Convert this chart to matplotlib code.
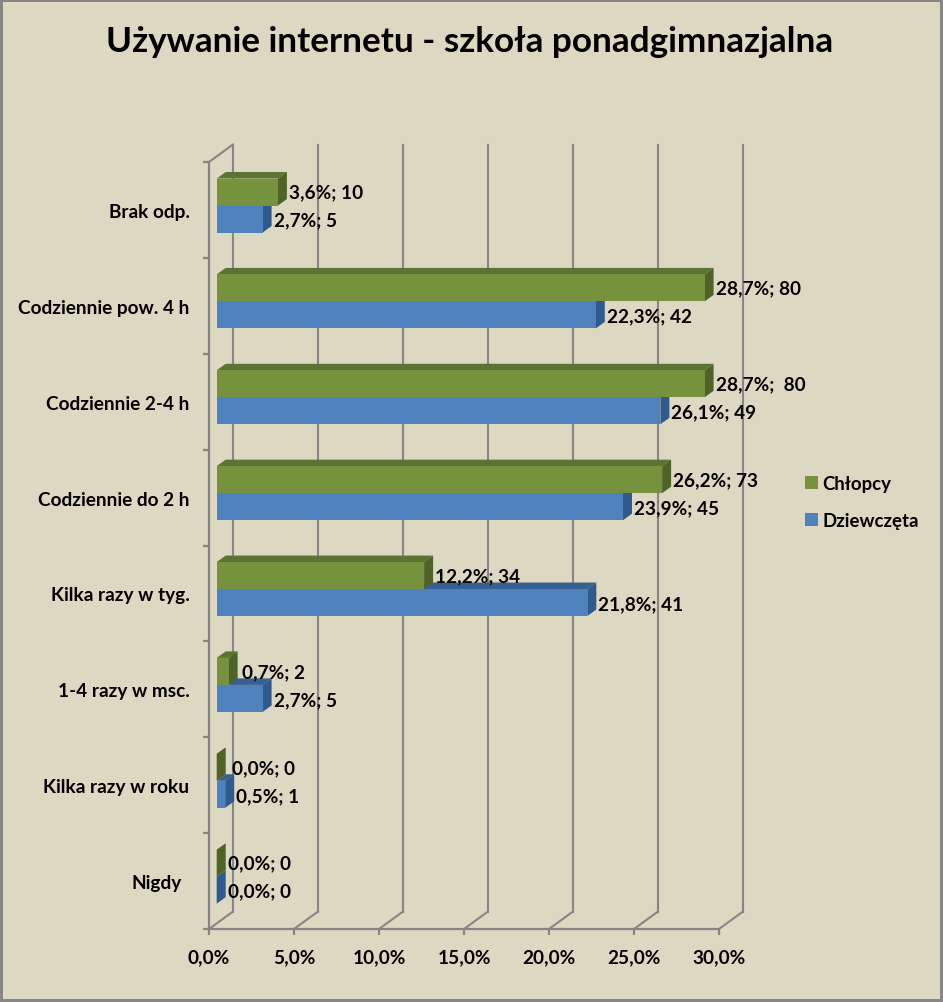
import matplotlib
matplotlib.use('Agg')
import matplotlib.pyplot as plt
from matplotlib.patches import Patch

plt.rcParams['font.family'] = ['Lato', 'Open Sans', 'DejaVu Sans']
plt.rcParams['font.weight'] = 'bold'

# Values top row first
categories = ['Brak odp.', 'Codziennie pow. 4 h', 'Codziennie 2-4 h', 'Codziennie do 2 h',
              'Kilka razy w tyg.', '1-4 razy w msc.', 'Kilka razy w roku', 'Nigdy']
chlopcy = [3.6, 28.7, 28.7, 26.2, 12.2, 0.7, 0.0, 0.0]
dziewczeta = [2.7, 22.3, 26.1, 23.9, 21.8, 2.7, 0.5, 0.0]
chlopcy_labels = ['3,6%; 10', '28,7%; 80', '28,7%;  80', '26,2%; 73', '12,2%; 34', '0,7%; 2', '0,0%; 0', '0,0%; 0']
dziewczeta_labels = ['2,7%; 5', '22,3%; 42', '26,1%; 49', '23,9%; 45', '21,8%; 41', '2,7%; 5', '0,5%; 1', '0,0%; 0']
x_ticks = [0, 5, 10, 15, 20, 25, 30]
x_tick_labels = ['0,0%', '5,0%', '10,0%', '15,0%', '20,0%', '25,0%', '30,0%']

BG = '#DDD8C2'
AXIS = '#868686'
GREEN = ('#76923C', '#5C7431', '#4F6228')   # front, top, side
BLUE = ('#4F81BD', '#376092', '#2F5A8F')
FS = 13.7

W, H = 943, 1003
fig = plt.figure(figsize=(W / 100, H / 100), dpi=100)
fig.patch.set_facecolor(BG)
fig.patch.set_edgecolor(AXIS)
fig.patch.set_linewidth(3)

ax = fig.add_axes([209 / W, 1 - 930 / H, 510 / W, 767 / H])
ax.patch.set_alpha(0)
ax.set_xlim(0, 30)
ax.set_ylim(0, 8)

# pixel sizes converted to data units
px_x = 30 / 510
px_y = 8 / 767
wall_dx, wall_dy = 24 * px_x, 17.5 * px_y
bar_x0, bar_y0 = 7.7 * px_x, 4.4 * px_y
depth_dx, depth_dy = 9 * px_x, 6.5 * px_y
bar_h = 27 * px_y


def draw_bars(values, ypos, colors):
    front, top, side = colors
    for v, y in zip(values, ypos):
        x1 = bar_x0 + v
        ax.fill([bar_x0, x1, x1 + depth_dx, bar_x0 + depth_dx],
                [y + bar_h, y + bar_h, y + bar_h + depth_dy, y + bar_h + depth_dy],
                color=top, lw=0, clip_on=False, zorder=3)
        ax.fill([x1, x1 + depth_dx, x1 + depth_dx, x1],
                [y, y + depth_dy, y + bar_h + depth_dy, y + bar_h],
                color=side, lw=0, clip_on=False, zorder=3)
    ax.barh(ypos, values, height=bar_h, left=bar_x0, align='edge', color=front, lw=0, zorder=3, clip_on=False)


# back wall, floor and side
for t in x_ticks:
    ax.plot([t + wall_dx, t + wall_dx], [wall_dy, 8 + wall_dy], color=AXIS, lw=1.5, clip_on=False, zorder=1)
    ax.plot([t, t + wall_dx], [0, wall_dy], color=AXIS, lw=1.5, clip_on=False, zorder=1)
ax.plot([0, wall_dx], [8, 8 + wall_dy], color=AXIS, lw=1.5, clip_on=False, zorder=1)

n = len(categories)
rows = [n - 1 - i + 0.5 for i in range(n)]
ypos_blue = [r + bar_y0 - bar_h for r in rows]
ypos_green = [r + bar_y0 for r in rows]

draw_bars(dziewczeta, ypos_blue, BLUE)
draw_bars(chlopcy, ypos_green, GREEN)

# data labels, nudged in pixels like the hand placed originals
green_nudge = [2, 2, 2, 2, 2, 4, 6, 2]
blue_nudge = [2, 2, 2, 2, 2, 2, 2, 2]
for v, r, lab, nx in zip(chlopcy, rows, chlopcy_labels, green_nudge):
    ax.annotate(lab, (bar_x0 + v + depth_dx, r + bar_y0), xytext=(nx * 0.72, 13.5 * 0.72),
                textcoords='offset points', va='center', ha='left', fontsize=FS, color='black',
                annotation_clip=False, zorder=5)
for v, r, lab, nx in zip(dziewczeta, rows, dziewczeta_labels, blue_nudge):
    ax.annotate(lab, (bar_x0 + v + depth_dx, r + bar_y0), xytext=(nx * 0.72, -14.5 * 0.72),
                textcoords='offset points', va='center', ha='left', fontsize=FS, color='black',
                annotation_clip=False, zorder=5)

for s in ['top', 'right']:
    ax.spines[s].set_visible(False)
for s in ['left', 'bottom']:
    ax.spines[s].set_color(AXIS)
    ax.spines[s].set_linewidth(1.6)

ax.set_xticks(x_ticks)
ax.set_xticklabels(x_tick_labels, fontsize=FS, fontweight='bold')
ax.set_yticks(range(n + 1))
ax.set_yticklabels([])
ax.set_yticks(rows, minor=True)
ax.set_yticklabels(categories, minor=True, fontsize=FS, fontweight='bold')
ax.tick_params(axis='x', length=4.5, width=1.6, color=AXIS, pad=9.5)
ax.tick_params(axis='y', which='major', length=4.5, width=1.6, color=AXIS)
ax.tick_params(axis='y', which='minor', length=0, pad=14)
# "Nigdy " sits a little further left in the original
ax.get_yticklabels(minor=True)[-1].set_x(-0.015)

fig.text(470 / W, 1 - 42 / H, 'Używanie internetu - szkoła ponadgimnazjalna',
         ha='center', va='center', fontsize=25.3, fontweight='bold', color='black')

handles = [Patch(facecolor=GREEN[0], label='Chłopcy'), Patch(facecolor=BLUE[0], label='Dziewczęta')]
fig.legend(handles=handles, loc='center left', bbox_to_anchor=(798 / W, 1 - 503 / H), frameon=False,
           fontsize=13.4, handlelength=0.7, handleheight=0.7, handletextpad=0.22, labelspacing=1.1,
           borderaxespad=0, borderpad=0.4)

fig.savefig('out.png', dpi=100)
